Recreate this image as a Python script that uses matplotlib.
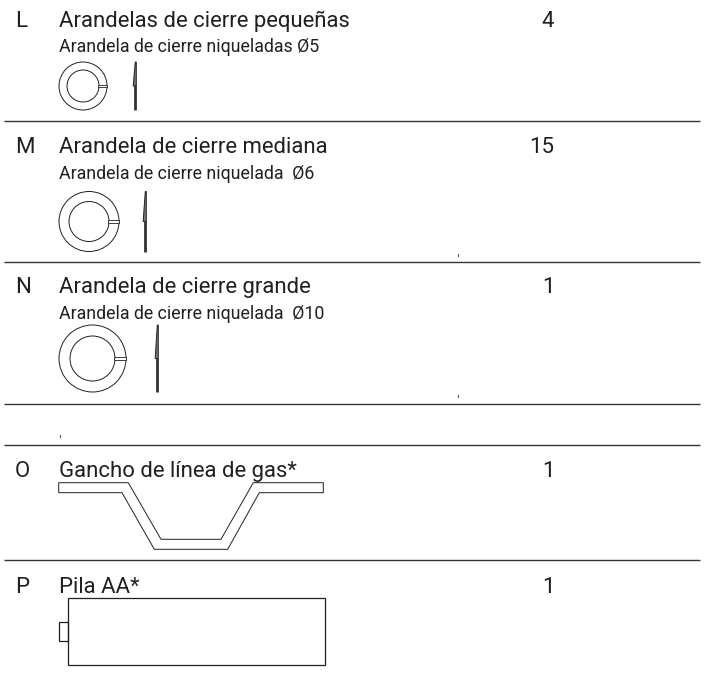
import matplotlib
matplotlib.use("Agg")
import matplotlib.pyplot as plt
from matplotlib.patches import Circle, Polygon, Rectangle

letters = ["L", "M", "N", "O", "P"]
names = ["Arandelas de cierre pequeñas", "Arandela de cierre mediana", "Arandela de cierre grande",
         "Gancho de línea de gas*", "Pila AA*"]
subs = ["Arandela de cierre niqueladas Ø5", "Arandela de cierre niquelada  Ø6", "Arandela de cierre niquelada  Ø10", "", ""]
quantities = ["4", "15", "1", "1", "1"]
name_y = [27, 153, 293, 477, 593]
sub_y = [52, 179, 319, None, None]
qty_x = [548, 542, 548, 548, 548]
rules_y = [121, 262, 404, 445, 560]
washers = [(83, 86, 24, 16, 135), (89, 221.5, 30, 20, 145), (92.5, 358.5, 33.5, 22.5, 157)]
hook_x = [58.7, 128.3, 161, 221, 253.3, 323.3, 323.3, 259.3, 227.7, 154.3, 122, 58.7]
hook_y = [482.7, 482.7, 539.3, 539.3, 482.7, 482.7, 492.7, 492.7, 549.3, 549.3, 492.7, 492.7]
specks = [(458, 255), (458, 396), (60, 436)]

INK = "#231f20"
plt.rcParams['font.family'] = ['Roboto', 'Liberation Sans', 'DejaVu Sans']
fig = plt.figure(figsize=(7.05, 6.73), dpi=100)
ax = fig.add_axes([0, 0, 1, 1])
ax.set_xlim(0, 705)
ax.set_ylim(673, 0)
ax.axis("off")

for y in rules_y:
    ax.plot([4, 700], [y, y], color="#333333", lw=1.0, solid_capstyle="butt")

for i, letter in enumerate(letters):
    ax.text(15, name_y[i], letter, fontsize=16.0, color=INK, va="baseline", ha="left")
    ax.text(59, name_y[i], names[i], fontsize=15.9, color=INK, va="baseline", ha="left")
    ax.text(qty_x[i], name_y[i], quantities[i], fontsize=16.0, color=INK, va="baseline", ha="center")
    if subs[i]:
        ax.text(59, sub_y[i], subs[i], fontsize=12.8, color=INK, va="baseline", ha="left")

for cx, cy, ro, ri, sx in washers:
    ax.add_patch(Circle((cx, cy), ro, fill=False, ec=INK, lw=0.7))
    ax.add_patch(Circle((cx, cy), ri, fill=False, ec=INK, lw=0.7))
    ax.add_patch(Rectangle((cx + ri - 1, cy - 1.2), ro - ri + 1, 2.4, fc="white", ec=INK, lw=0.6, zorder=3))
    ax.plot([sx, sx], [cy - 1, cy + ro], color="#333333", lw=2.0, solid_capstyle="butt")
    ax.add_patch(Polygon([(sx + 0.3, cy - ro), (sx + 1.3, cy - ro), (sx + 1.3, cy), (sx - 1.8, cy),
                          (sx - 1, cy - ro * 0.4)], closed=True, fc="#777777", ec="#222222", lw=0.7))

ax.add_patch(Polygon(list(zip(hook_x, hook_y)), closed=True, fill=False, ec=INK, lw=0.7))
ax.add_patch(Rectangle((67.7, 598), 257.6, 67, fill=False, ec=INK, lw=0.9))
ax.add_patch(Rectangle((58.7, 622), 9, 19, fill=False, ec=INK, lw=0.9))
for x, y in specks:
    ax.plot([x, x], [y - 1, y + 1], color="#555555", lw=0.8)

fig.savefig("out.png", dpi=100)
